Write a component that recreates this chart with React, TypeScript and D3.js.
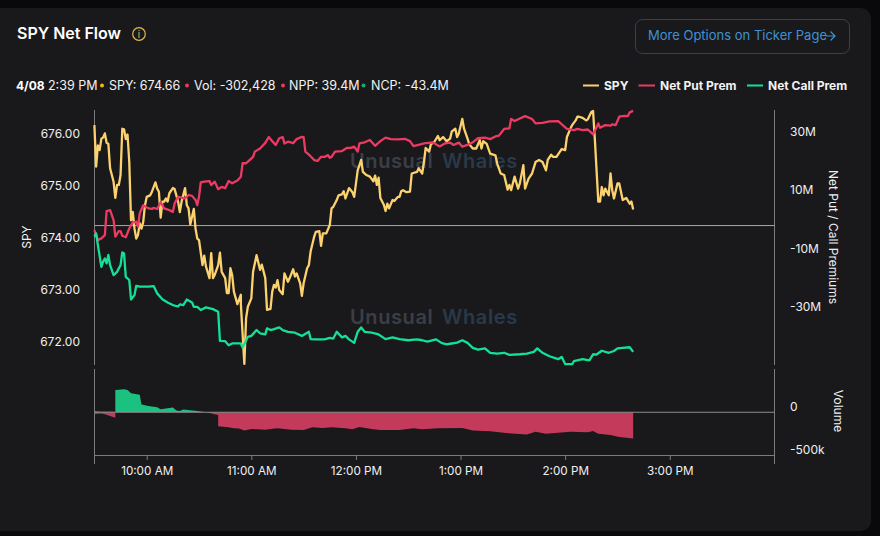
import React from "react";
import * as d3 from "d3";

type Pt = [number, number];

// [minutes since 9:30, value]
const spyPrice: Pt[] = [
  [0.6,676.28],[1.7,675.48],[2.5,675.89],[3.4,675.8],[4.4,676.02],[5.7,676.04],[6.7,676.12],[7.65,675.94],[8.6,675.92],[9.75,675.45],
  [11.1,675.19],[12.4,674.88],[13.6,675.13],[14.7,675.13],[15.5,675.32],[16.4,676.21],[17.4,676.2],[18.5,676.01],[19.5,676.1],[20.5,675.57],
  [21.4,674.45],[22.4,674.61],[23.3,674.29],[24.5,674.1],[25.4,674.17],[26.4,674.39],[27.3,674.29],[28.5,674.42],[29.6,674.74],[30.6,674.9],
  [32.1,674.93],[33.7,675.0],[35.4,675.18],[36.7,675.06],[37.7,675.0],[38.4,674.5],[39.4,674.81],[40.7,674.81],[41.9,674.87],[42.6,674.81],
  [43.8,674.97],[45.3,675.07],[46.8,675.05],[48,674.81],[49.3,674.61],[50.7,674.81],[52.2,675.07],[53.5,674.74],[54.7,674.68],[55.6,674.37],
  [57.2,674.67],[58.3,674.29],[59.5,674.1],[60.6,674.07],[62.1,673.59],[63.7,673.77],[64.8,673.56],[66,673.34],[67.1,673.82],[68.5,673.34],
  [69.8,673.4],[71.3,673.59],[72.5,673.83],[73.8,673.46],[75.1,673.34],[76.3,673.05],[77.4,673.05],[78.4,673.53],[79.9,673.4],[80.9,673.08],
  [82.4,672.84],[84,673.02],[84.7,672.84],[86.2,671.69],[87.4,672.57],[88.5,672.79],[90.4,672.95],[91.6,673.46],[93.5,673.78],[95.2,673.5],
  [96.6,673.6],[98.3,673.34],[99.45,672.73],[101,672.75],[102.1,673.08],[103.3,673.21],[104.4,673.16],[105.8,673.3],[106.7,673.11],[108.2,673.03],
  [109.6,673.43],[111.5,673.27],[112.8,673.34],[114.4,673.51],[115.7,673.37],[116.6,673.43],[118.2,673.24],[119.3,673.0],[120.7,673.24],[122,673.53],
  [123.3,673.59],[124.9,673.85],[126.2,674.13],[127.7,674.23],[129.3,674.24],[130.4,673.96],[131.6,674.2],[133.5,674.2],[135,674.36],[136.3,674.68],
  [137.7,674.71],[139.6,674.84],[140.7,674.93],[142.3,674.95],[143.2,675.01],[144.2,674.87],[145.3,674.97],[146.9,675.07],[148.4,674.99],[149.5,674.9],
  [151.1,675.41],[153,675.61],[154.5,675.38],[156.4,675.32],[158.3,675.29],[160.3,675.2],[161.6,675.31],[162.4,675.13],[163.3,675.27],[164.5,674.88],
  [166,674.75],[167.5,674.63],[168.7,674.77],[169.8,674.68],[171.3,674.84],[172.7,674.82],[174,674.9],[175.2,674.9],[176.3,675.01],[177.8,675.03],
  [179,674.99],[181.3,675.0],[182.8,675.35],[185.1,675.38],[186.6,675.45],[188,675.35],[189.3,675.57],[190.8,675.84],[192.2,675.77],[193.7,675.91],
  [195.6,675.96],[197.5,676.07],[198.7,675.99],[200,676.05],[202.3,675.97],[204.2,676.02],[205.7,676.16],[207.3,676.21],[208.8,676.05],[209.9,676.12],
  [211.5,676.4],[212.8,676.21],[214.1,676.02],[215.7,675.91],[217.6,675.83],[219.1,675.83],[221,675.99],[222.2,675.83],[223.9,675.97],[225.2,675.92],
  [227.1,675.73],[230,675.7],[231.9,675.54],[233.8,675.35],[235.4,675.32],[237.1,675.04],[238.6,675.13],[239.6,675.03],[241.5,675.29],[243.4,675.06],
  [244.7,675.16],[246.3,675.51],[247.4,675.06],[249.3,675.25],[251.6,675.35],[253.1,675.57],[255.4,675.61],[257.7,675.57],[259.3,675.41],[260.8,675.61],
  [262.3,675.71],[263.9,675.67],[265.8,675.67],[267.3,675.77],[268.8,675.82],[270.2,675.8],[271.5,676.05],[273,676.21],[274.6,676.28],[276.1,676.37],
  [277.2,676.44],[278.8,676.44],[280.7,676.42],[282.2,676.37],[283.7,676.39],[285.3,676.53],[286.4,676.55],[287.8,676.02],[289.3,674.81],[290.2,674.81],
  [291.4,675.09],[292.5,674.93],[293.7,675.06],[295,674.93],[296,675.35],[297.3,675.03],[298.8,674.87],[300.2,675.16],[301.7,675.16],[303.2,674.84],
  [304.8,674.86],[305.9,674.88],[307.4,674.77],[308.4,674.81],[309.4,674.66],
];

const netPutPrem: Pt[] = [
  [0.6,-1.6],[2.5,-5],[4.8,-4.4],[6.3,-3.3],[7.5,5],[9.6,5.3],[11.3,1.9],[12.4,-3.8],[14,-1.9],[15.5,-1.9],
  [16.8,-3.5],[18.7,-4],[20.7,-1],[22.6,1.1],[24.5,1.3],[25.4,-0.4],[26.8,4.2],[28.9,7],[31.2,5.9],[33.1,5.7],
  [34,6.1],[36,5.7],[38.4,8],[40.7,5.9],[43,5.3],[45.5,4.7],[46.5,7.6],[48,9.9],[50.3,9.6],[52.2,9.3],
  [54.5,10.5],[56.4,10.2],[58,8.8],[59.7,7],[60.8,9.9],[61.8,14.8],[63.7,15.1],[66,15.3],[67.5,13.9],[69.4,15.1],
  [71,12.5],[73.2,13.3],[75.1,12.8],[77.4,15.3],[79.3,14.5],[82.8,15.5],[84.3,16.8],[85.7,21.4],[87.6,21.4],[89.9,22.5],
  [91.4,23.6],[92.4,25.4],[95.2,26.5],[98.1,28.4],[100.2,30.4],[102.5,29],[104.8,27.7],[106.7,30],[108.2,30.4],[109.2,28.2],
  [111.5,28.8],[114.4,28.3],[116.6,29.7],[119.1,30.5],[120.5,30.4],[121.6,25.4],[123.9,24.4],[126.2,22.5],[128.9,22.2],[130.6,23.6],
  [132.5,23.6],[134.4,24.2],[135.8,23.3],[136.9,23.6],[138.8,25.4],[142.1,25.6],[145.3,26.7],[147.8,26.7],[149.7,27.1],[151.3,25.4],
  [152.2,28.2],[155.5,28.6],[158.3,29.4],[161.2,27.4],[164.1,29],[167,30.2],[170.8,29.7],[174.6,29.6],[178.4,29.8],[181,29],
  [183.2,27.3],[187,27.9],[189.9,28.2],[194.7,28.6],[198.5,27.2],[201.4,28.2],[204.2,28.5],[206.1,27.7],[209.6,28.5],[211.8,27.1],
  [214.7,27.7],[217.6,28.6],[220.5,30],[224.3,30.2],[227.1,29.7],[230,30.6],[232.9,30.9],[235.8,33.2],[238.2,33.4],[239.2,36.6],
  [241.5,35.9],[244.4,36.8],[247.8,37.6],[251,36.6],[253.9,35.1],[257.7,35.3],[261.6,35.8],[266.3,35.9],[268.8,34.8],[271.1,33.2],
  [275,32.8],[277.8,33.2],[280.7,32.8],[283.5,33],[286.8,31.3],[287.9,32.5],[289.1,35.1],[290.6,33.6],[293.1,34.5],[296,34.3],
  [297.9,34.8],[299.8,34.5],[301.7,37.4],[304,37.7],[306.5,37.6],[307.8,38.9],[309.4,39.4],
];

const netCallPrem: Pt[] = [
  [0.6,-3.8],[1.7,-2.7],[2.9,-6.7],[4.4,-14.2],[5.9,-12.4],[6.7,-11.3],[7.5,-13],[8.6,-10.1],[9.75,-13.6],[11.3,-17],
  [13,-15.9],[14.5,-14.7],[15.5,-13.6],[16.4,-9.2],[17.4,-9.6],[18.4,-17.6],[20.3,-18.7],[21.6,-25.4],[23.1,-23.9],[24.3,-20.7],
  [26.4,-21],[28.3,-21],[31.2,-21],[34.2,-20.8],[36.9,-23.3],[39.8,-25.3],[42.6,-26.4],[45.5,-27.3],[48,-27.8],[49.9,-27.1],
  [51.8,-27.3],[53.2,-25.4],[56,-26.4],[57.6,-27.9],[59.9,-27.9],[61.4,-29],[64.6,-28.1],[68.5,-28.7],[71.7,-29.6],[72.5,-39.6],
  [75.1,-39.7],[77.4,-41.1],[79.9,-40.5],[84.7,-40.5],[85.9,-41.9],[88.5,-38.2],[90.4,-37.9],[93.3,-35.9],[95.2,-37],[98.1,-37.4],
  [99.45,-35.3],[101,-35.9],[103.8,-35.6],[106.3,-35],[108.6,-35.9],[111.5,-36.5],[115.3,-36.8],[119.1,-37.9],[123,-36.5],[124.5,-39],
  [127.7,-39.1],[132.5,-39.1],[135.8,-38.6],[137.7,-38.8],[139.2,-36.5],[142.1,-38.4],[144.6,-37.9],[146.9,-39.1],[149.7,-40.3],[151.1,-36.5],
  [153.4,-35],[155.5,-36.5],[159.3,-36.8],[163.1,-37.4],[167.9,-39],[171.7,-38.4],[175.5,-39],[180.3,-39.4],[185.1,-39.1],[188.9,-39.4],
  [191.8,-39.9],[196.6,-39.1],[199.4,-40.3],[202.3,-40.8],[204.2,-40.6],[208,-40.2],[211.5,-39.4],[214.7,-40.3],[217.6,-42],[220.5,-42.6],
  [224.3,-42.2],[227.1,-43.7],[231.9,-44],[235.8,-43.7],[238.6,-44.4],[244.4,-44.2],[248.2,-44],[252,-43.4],[254.3,-42.2],[257.7,-43.7],
  [261.6,-44.9],[266.3,-45.9],[268.3,-45.1],[270.2,-47.6],[274,-47.6],[275.9,-46.6],[280,-45.9],[283,-46.2],[284.5,-46.2],[286,-44.2],
  [288.3,-44.3],[291.2,-43],[295,-43.7],[298.8,-43.1],[300.8,-42.2],[303.6,-42],[307,-41.8],[309.4,-43.4],
];

// thousands of contracts
const netVolume: Pt[] = [
  [0.6,-20],[4.4,-16],[6.3,-24],[9.2,-43],[12,-63],[12.1,259],[14.9,263],[17.4,270],[19.7,259],[21.6,223],
  [26,204],[27,90],[31.2,74],[36,59],[38.8,35],[41.7,43],[45.5,55],[47.4,20],[49.3,16],[51.8,31],
  [55,24],[59.9,16],[64.6,0],[69.4,-24],[71.1,-31],[71.9,-165],[74,-170],[77,-176],[80.9,-188],[83,-190],[86.2,-212],[90.4,-196],
  [94,-200],[98.1,-204],[102,-192],[105.7,-188],[113.4,-204],[120,-208],[125.8,-176],[131,-184],[136.3,-176],[144,-188],[148.8,-200],[152.6,-172],[159.3,-196],
  [164.1,-208],[175.6,-208],[183.2,-188],[188,-200],[197.6,-188],[211,-184],[217.6,-212],[227.2,-223],[236.8,-243],[248.2,-259],
  [253,-227],[259.7,-251],[273.1,-227],[283.6,-235],[286.5,-220],[289.3,-251],[296,-267],[301.8,-290],[309.4,-306],
];

// thin buy-side sliver over the opening minutes
const openingUpVolume: Pt[] = [[0.6,12],[4.4,6],[11.9,6]];

const spyTicks = [672, 673, 674, 675, 676];
const premTicks = [-30, -10, 10, 30];
const volTicks = [-500, 0];
const hourTicks = [10, 11, 12, 13, 14, 15];

const YELLOW = "#fbd26e";
const RED = "#ec3a62";
const GREEN = "#14e096";
const CARD = "#19191c";
const AXIS = "#7c7c7c";
const FONT = "Inter, sans-serif";

const sessionDate = (m: number) => new Date(2025, 3, 8, 9, 30 + m);

export default function App() {
  const ref = React.useRef<SVGSVGElement | null>(null);

  React.useEffect(() => {
    if (!ref.current) return;
    const svg = d3.select(ref.current);
    svg.selectAll("*").remove();
    svg.style("font-family", FONT);

    const x = d3.scaleTime().domain([sessionDate(0), sessionDate(390)]).range([94.4, 774.4]);
    const ySpy = d3.scaleLinear().domain([671.67, 676.57]).range([365, 110]);
    const yPrem = d3.scaleLinear().domain([-47.9, 39.7]).range([365, 110]);
    const yVol = d3.scaleLinear().domain([-500, 506]).range([455, 369]);

    // card
    svg.append("rect").attr("width", 880).attr("height", 536).attr("fill", "#09090b");
    svg.append("rect").attr("x", -12).attr("y", 8).attr("width", 883).attr("height", 523).attr("rx", 10).attr("fill", CARD);

    // header
    svg.append("text").attr("x", 17).attr("y", 38.5).attr("fill", "#fff").attr("font-size", 16).attr("font-weight", 600).text("SPY Net Flow");
    svg.append("circle").attr("cx", 139).attr("cy", 34).attr("r", 6.3).attr("fill", "none").attr("stroke", "#e3b94e").attr("stroke-width", 1.2);
    svg.append("text").attr("x", 139).attr("y", 37.5).attr("text-anchor", "middle").attr("fill", "#e3b94e").attr("font-size", 9.5).text("i");

    const btn = svg.append("g");
    btn.append("rect").attr("x", 635.5).attr("y", 19.5).attr("width", 214).attr("height", 34).attr("rx", 7).attr("fill", "none").attr("stroke", "#2c4558");
    btn.append("text").attr("x", 648).attr("y", 40).attr("fill", "#3f92d2").attr("font-size", 13).text("More Options on Ticker Page");
    btn.append("path").attr("d", "M825.5 36H834.5M830.5 31.5L835 36L830.5 40.5").attr("fill", "none").attr("stroke", "#3f92d2").attr("stroke-width", 1.2);

    const status: [number, string][] = [
      [48, "2:39 PM"], [109, "SPY: 674.66"], [194, "Vol: -302,428"], [289, "NPP: 39.4M"], [371, "NCP: -43.4M"],
    ];
    svg.append("text").attr("x", 16).attr("y", 90).attr("fill", "#fff").attr("font-size", 12).attr("font-weight", 700).text("4/08");
    status.forEach(([px, label]) => {
      svg.append("text").attr("x", px).attr("y", 90).attr("fill", "#f2f2f2").attr("font-size", 12.5).text(label);
    });
    ([[102, "#f5b70f"], [187, "#e8395f"], [283, "#e8395f"], [363.5, "#1aa97a"]] as [number, string][]).forEach(([px, c]) => {
      svg.append("circle").attr("cx", px).attr("cy", 85.5).attr("r", 2).attr("fill", c);
    });

    // legend
    ([[583, 599, YELLOW, 604, "SPY"], [638.5, 655, RED, 660, "Net Put Prem"], [747, 763, GREEN, 768, "Net Call Prem"]] as [number, number, string, number, string][]).forEach(
      ([a, b, c, tx, label]) => {
        svg.append("line").attr("x1", a).attr("x2", b).attr("y1", 85.5).attr("y2", 85.5).attr("stroke", c).attr("stroke-width", 2);
        svg.append("text").attr("x", tx).attr("y", 90).attr("fill", "#f2f2f2").attr("font-size", 12).attr("font-weight", 700).text(label);
      }
    );

    // watermarks
    [168, 324].forEach(wy => {
      const t = svg.append("text").attr("x", 350).attr("y", wy).attr("font-size", 20).attr("font-weight", 600).attr("letter-spacing", 0.6);
      t.append("tspan").attr("fill", "#3a3f47").text("Unusual");
      t.append("tspan").attr("x", 442).attr("fill", "#2a3949").text("Whales");
    });

    // axes
    const styleAxis = (g: d3.Selection<SVGGElement, unknown, null, undefined>, dy: number) => {
      g.select(".domain").remove();
      g.selectAll("text").attr("fill", "#f0f0f0").attr("font-size", 12).attr("font-family", FONT).attr("dy", dy);
    };
    svg.append("g").attr("transform", "translate(80,0)")
      .call(d3.axisLeft(ySpy).tickValues(spyTicks).tickSize(0).tickPadding(0).tickFormat(d => d3.format(".2f")(d as number)))
      .call(g => styleAxis(g, -2.5));
    svg.append("g").attr("transform", "translate(790,0)")
      .call(d3.axisRight(yPrem).tickValues(premTicks).tickSize(0).tickPadding(0).tickFormat(d => `${d}M`))
      .call(g => styleAxis(g, -2.5));
    svg.append("g").attr("transform", "translate(790,0)")
      .call(d3.axisRight(yVol).tickValues(volTicks).tickSize(0).tickPadding(0).tickFormat(d => (d === 0 ? "0" : `${d}k`)))
      .call(g => styleAxis(g, -2));
    const xAxis = svg.append("g").attr("transform", "translate(0,455)")
      .call(d3.axisBottom(x).tickValues(hourTicks.map(h => new Date(2025, 3, 8, h))).tickSize(5).tickPadding(5).tickFormat(d => d3.timeFormat("%-I:%M %p")(d as Date)));
    xAxis.selectAll("line").attr("stroke", AXIS);
    styleAxis(xAxis, 10);
    xAxis.selectAll("text").attr("font-size", 11.7);

    // frame lines
    const rule = (x1: number, x2: number, y1: number, y2: number, c = AXIS) =>
      svg.append("line").attr("x1", x1).attr("x2", x2).attr("y1", y1).attr("y2", y2).attr("stroke", c).attr("stroke-width", 1);
    rule(94.5, 94.5, 110, 365);
    rule(94.5, 94.5, 369, 464);
    rule(774.5, 774.5, 110, 365);
    rule(774.5, 774.5, 369, 464);
    rule(94.5, 774.5, 455.5, 455.5);

    // volume: green above zero, red below
    const areaOf = d3.area<Pt>().x(d => x(sessionDate(d[0]))).y0(yVol(0)).y1(d => yVol(d[1]));
    const defs = svg.append("defs");
    defs.append("clipPath").attr("id", "above").append("rect").attr("x", 94).attr("y", 369).attr("width", 681).attr("height", yVol(0) - 369);
    defs.append("clipPath").attr("id", "below").append("rect").attr("x", 94).attr("y", yVol(0)).attr("width", 681).attr("height", 455 - yVol(0));
    svg.append("path").datum(openingUpVolume).attr("d", areaOf).attr("fill", "#1ac180");
    svg.append("path").datum(netVolume).attr("d", areaOf).attr("fill", "#1ac180").attr("clip-path", "url(#above)");
    svg.append("path").datum(netVolume).attr("d", areaOf).attr("fill", "#c43a5a").attr("clip-path", "url(#below)");
    rule(94.5, 774.5, yVol(0), yVol(0), "#8c8c8c");

    // price and premium lines
    rule(94.5, 774.5, yPrem(0), yPrem(0), "#a8a8a8");
    const lineOf = (y: d3.ScaleLinear<number, number>) => d3.line<Pt>().x(d => x(sessionDate(d[0]))).y(d => y(d[1]));
    const drawLine = (data: Pt[], y: d3.ScaleLinear<number, number>, color: string) =>
      svg.append("path").datum(data).attr("fill", "none").attr("stroke", color).attr("stroke-width", 2.3).attr("stroke-linejoin", "round").attr("d", lineOf(y));
    drawLine(spyPrice, ySpy, YELLOW);
    drawLine(netPutPrem, yPrem, RED);
    drawLine(netCallPrem, yPrem, GREEN);

    // axis titles
    const title = (tx: number, ty: number, rot: number, label: string) =>
      svg.append("text").attr("transform", `translate(${tx},${ty}) rotate(${rot})`).attr("text-anchor", "middle").attr("fill", "#f0f0f0").attr("font-size", 12).text(label);
    title(31, 237, -90, "SPY");
    title(829, 237, 90, "Net Put / Call Premiums");
    title(834, 411, 90, "Volume");
  }, []);

  return <svg ref={ref} width={880} height={536} style={{ position: "fixed", left: 0, top: 0 }}></svg>;
}
